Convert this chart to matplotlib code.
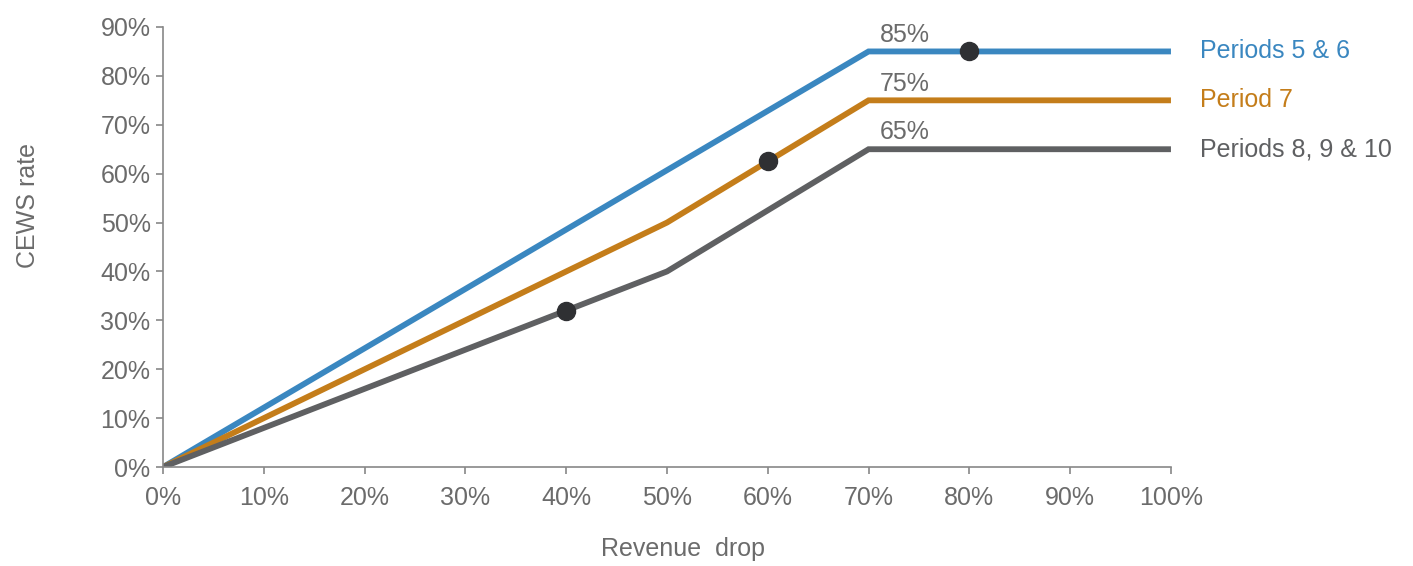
import matplotlib.pyplot as plt
from matplotlib.ticker import FuncFormatter

plt.rcParams['font.family'] = ['Liberation Sans', 'DejaVu Sans']

# revenue drop (%) and CEWS rate (%) per period
drop_56 = [0, 70, 100]
rate_56 = [0, 85, 85]
drop_7 = [0, 50, 70, 100]
rate_7 = [0, 50, 75, 75]
drop_810 = [0, 50, 70, 100]
rate_810 = [0, 40, 65, 65]

# highlighted points
dot_x = [80, 60, 40]
dot_y = [85, 62.5, 32]

names = ['Periods 5 & 6', 'Period 7', 'Periods 8, 9 & 10']
caps = [85, 75, 65]
colors = ['#3a87c0', '#c47d1a', '#5f6062']
txt = '#6b6b6b'
fs = 18

fig = plt.figure(figsize=(14.13, 5.66), dpi=100)
ax = fig.add_axes([0.1154, 0.1749, 0.7133, 0.7774])

series = [(drop_56, rate_56), (drop_7, rate_7), (drop_810, rate_810)]
for (xs, ys), c in zip(series, colors):
    ax.plot(xs, ys, color=c, lw=4.2, solid_capstyle='butt', solid_joinstyle='miter')

ax.plot(dot_x, dot_y, 'o', color='#2f3033', ms=13, ls='none', zorder=5)

for name, cap, c in zip(names, caps, colors):
    ax.text(71.1, cap + 2.0, '%d%%' % cap, color=txt, fontsize=fs, ha='left', va='baseline')
    ax.annotate(name, xy=(100, cap), xytext=(21, 0), textcoords='offset points',
                color=c, fontsize=fs, ha='left', va='center', annotation_clip=False)

ax.set_xlim(0, 100)
ax.set_ylim(0, 90)
ax.set_xticks(range(0, 101, 10))
ax.set_yticks(range(0, 91, 10))
pct = FuncFormatter(lambda v, p: '%d%%' % v)
ax.xaxis.set_major_formatter(pct)
ax.yaxis.set_major_formatter(pct)

for s in ['top', 'right']:
    ax.spines[s].set_visible(False)
for s in ['left', 'bottom']:
    ax.spines[s].set_color('#888888')
    ax.spines[s].set_linewidth(1.2)
ax.tick_params(colors='#888888', labelcolor=txt, labelsize=fs, length=5, width=1.2)
ax.tick_params(axis='x', pad=9)
ax.tick_params(axis='y', pad=4)

ax.set_xlabel('Revenue  drop', fontsize=fs, color=txt)
ax.xaxis.set_label_coords(0.516, -0.16)
ax.set_ylabel('CEWS rate', fontsize=fs, color=txt)
ax.yaxis.set_label_coords(-0.122, 0.595)

fig.savefig('out.png', dpi=100)
